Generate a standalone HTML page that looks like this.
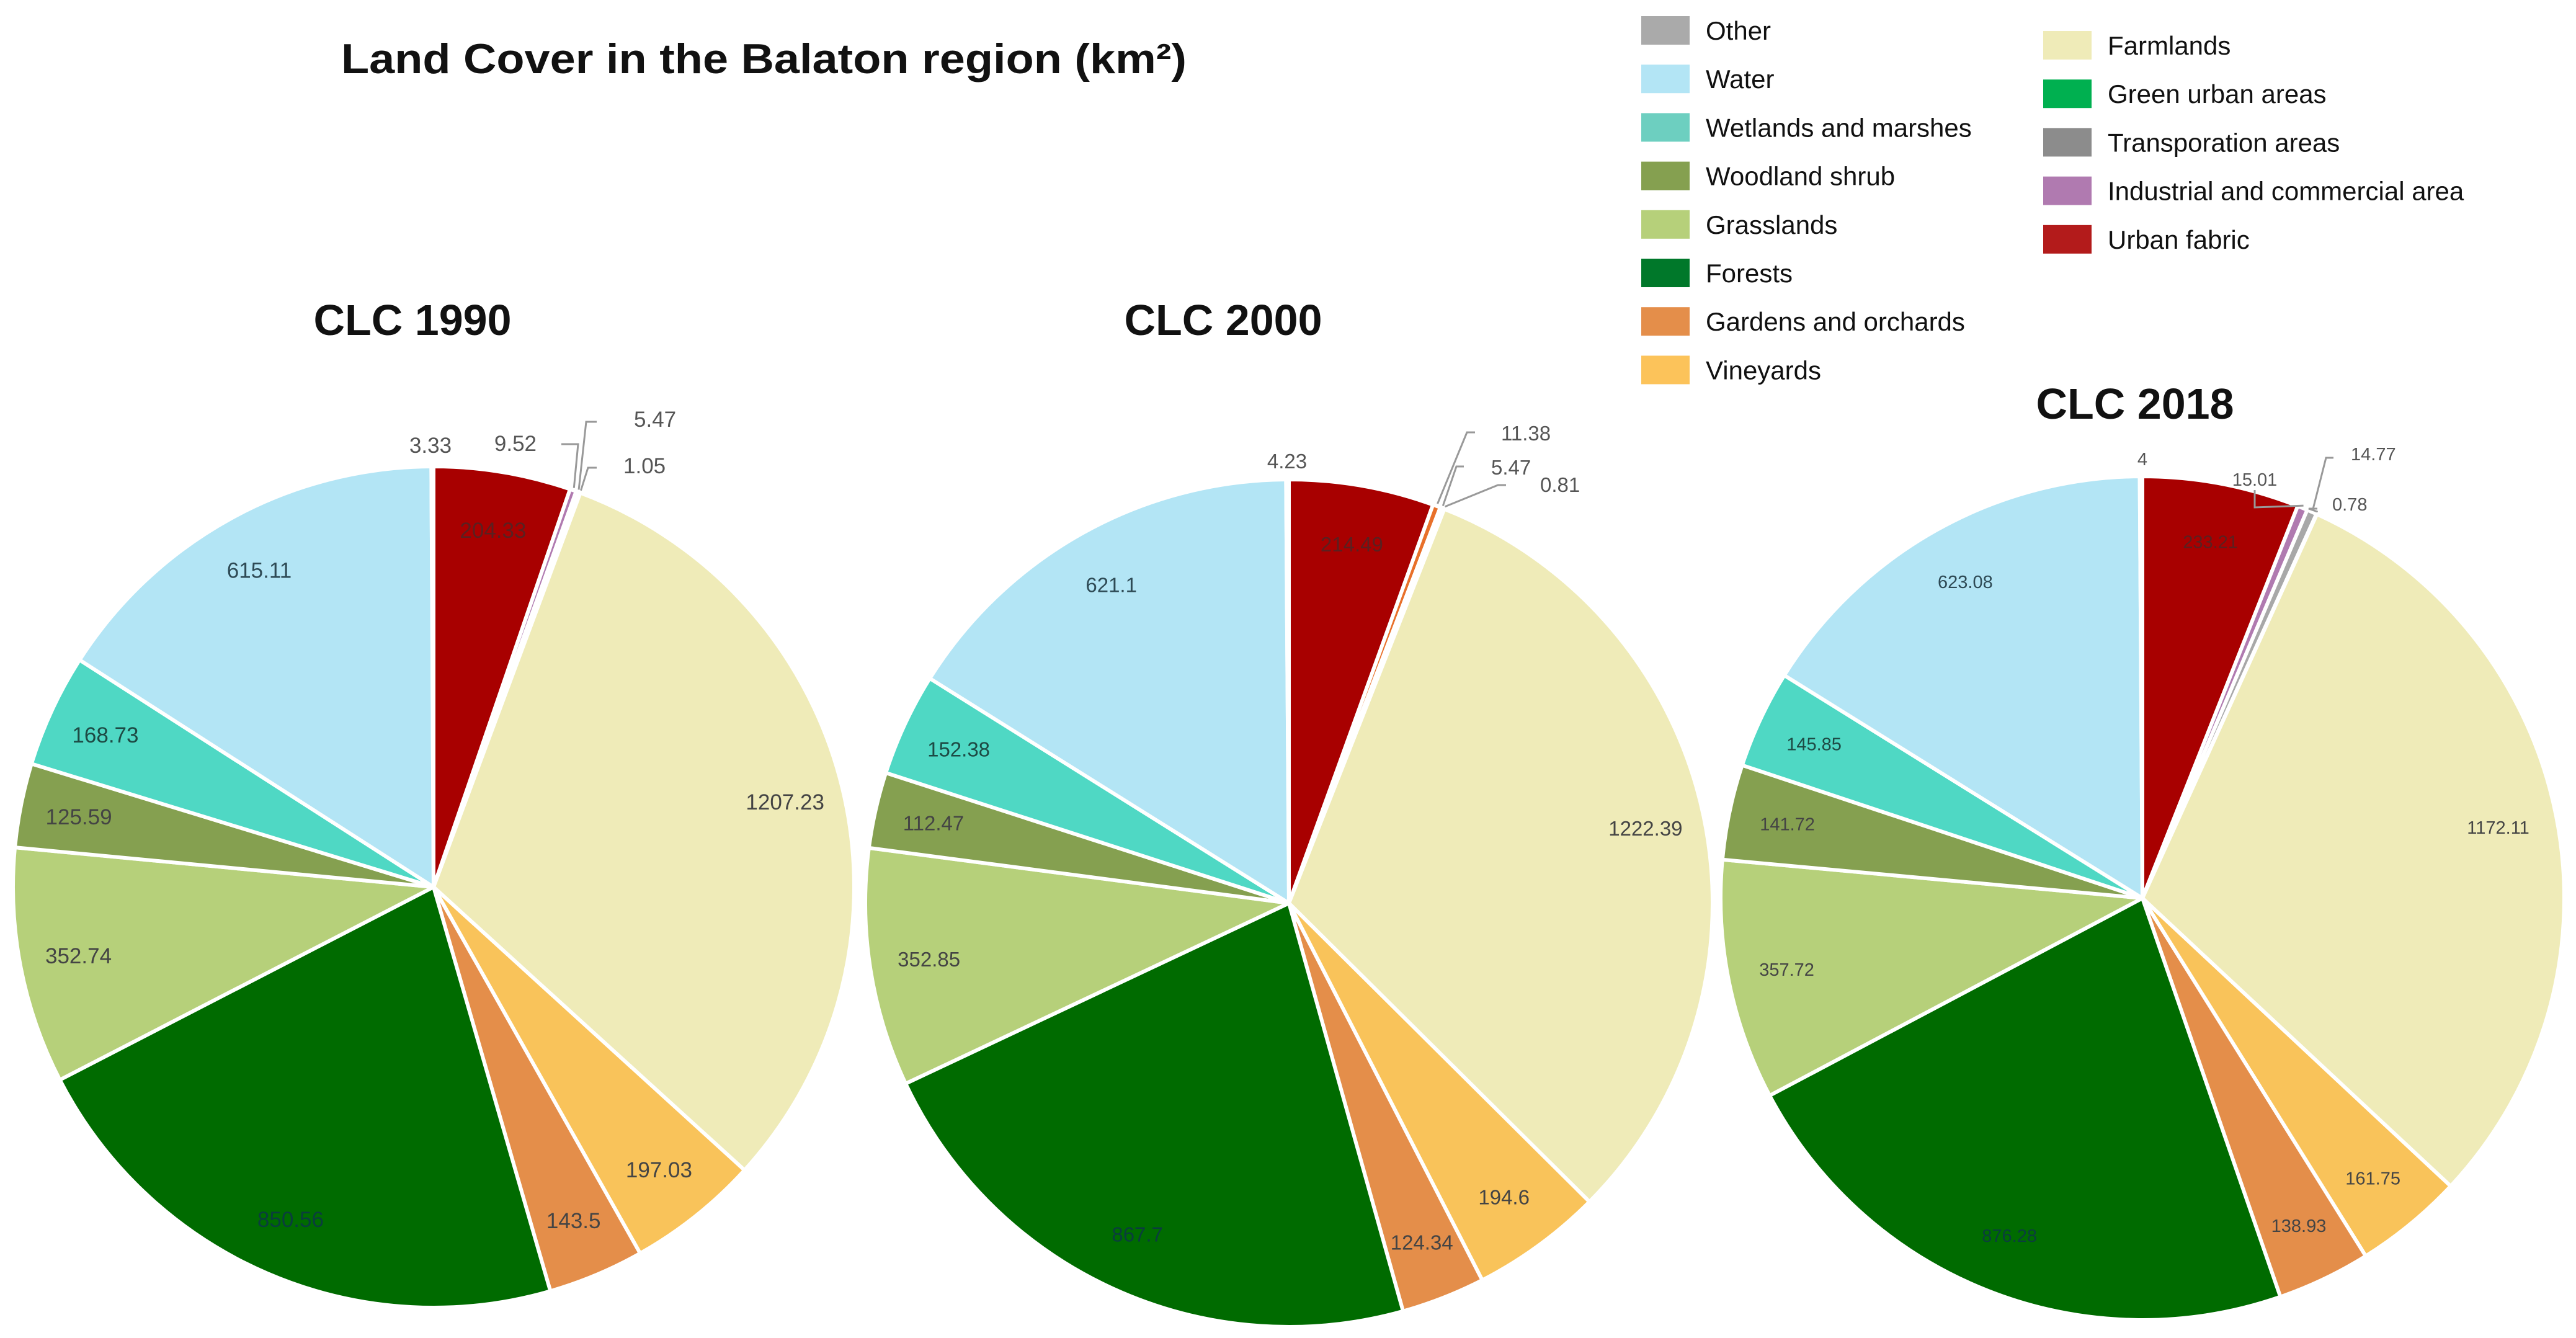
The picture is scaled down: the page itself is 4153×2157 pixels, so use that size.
<!DOCTYPE html>
<html><head><meta charset="utf-8"><style>
html,body{margin:0;padding:0;background:#fff;}
svg{display:block;}
text{font-family:"Liberation Sans","DejaVu Sans",sans-serif;}
</style></head><body>
<svg id="chart" width="4153" height="2157" viewBox="0 0 4153 2157">
<text x="550" y="118" font-size="68" font-weight="bold" fill="#111" textLength="1363" lengthAdjust="spacingAndGlyphs">Land Cover in the Balaton region (km²)</text>
<g id="legend"></g>
<g id="pies"></g>
</svg>
<script>
const categories = ["Urban fabric","Industrial and commercial area","Transporation areas","Green urban areas","Farmlands","Vineyards","Gardens and orchards","Forests","Grasslands","Woodland shrub","Wetlands and marshes","Water","Other"];
const years = ["CLC 1990","CLC 2000","CLC 2018"];
const values1990 = [204.33,9.52,5.47,1.05,1207.23,197.03,143.5,850.56,352.74,125.59,168.73,615.11,3.33];
const values2000 = [214.49,11.38,5.47,0.81,1222.39,194.6,124.34,867.7,352.85,112.47,152.38,621.1,4.23];
const values2018 = [233.21,15.01,14.77,0.78,1172.11,161.75,138.93,876.28,357.72,141.72,145.85,623.08,4];
const labels1990 = ["204.33","9.52","5.47","1.05","1207.23","197.03","143.5","850.56","352.74","125.59","168.73","615.11","3.33"];
const labels2000 = ["214.49","11.38","5.47","0.81","1222.39","194.6","124.34","867.7","352.85","112.47","152.38","621.1","4.23"];
const labels2018 = ["233.21","15.01","14.77","0.78","1172.11","161.75","138.93","876.28","357.72","141.72","145.85","623.08","4"];

const sliceColors = ["#a80000","#b07ab0","#a8a8a8","#00b050","#efebb8","#f9c35a","#e48e4a","#006b00","#b6d07a","#85a050","#4fd8c4","#b3e5f5","#a8a8a8"];
const labelColors = ["#5a2020","#555","#555","#555","#444","#444","#444","#0a3d3d","#444","#444","#1d4a44","#2e4a55","#555"];
const legendLeft = [["Other","#aaaaaa"],["Water","#b3e5f5"],["Wetlands and marshes","#6dcfc0"],["Woodland shrub","#85a050"],["Grasslands","#b6d07a"],["Forests","#00782a"],["Gardens and orchards","#e48e4a"],["Vineyards","#fcc35a"]];
const legendRight = [["Farmlands","#efebb8"],["Green urban areas","#00b050"],["Transporation areas","#8c8c8c"],["Industrial and commercial area","#b07ab0"],["Urban fabric","#b31b1b"]];

const NS="http://www.w3.org/2000/svg";
function mk(tag,attrs,parent){const e=document.createElementNS(NS,tag);for(const k in attrs)e.setAttribute(k,attrs[k]);parent.appendChild(e);return e;}

const lg=document.getElementById('legend');
legendLeft.forEach((d,i)=>{
  const g=mk('g',{},lg);
  
  
  const y=26+i*78.2;
  mk('rect',{x:2646,y:y,width:78,height:46,fill:d[1]},g);
  const t=mk('text',{x:2750,y:y+38,'font-size':42,fill:'#111'},g);t.textContent=d[0];
});
legendRight.forEach((d,i)=>{
  const g=mk('g',{},lg);
  
  
  const y=50+i*78.2;
  mk('rect',{x:3294,y:y,width:78,height:46,fill:d[1]},g);
  const t=mk('text',{x:3398,y:y+38,'font-size':42,fill:'#111'},g);t.textContent=d[0];
});

const layout=[
 {cx:699,cy:1430,r:678,tx:665,ty:540,fs:35,callouts:{12:[694,730,'middle',null],1:[865,727,'end',[905,716,932,716]],2:[1022,688,'start',[962,680,945,680]],3:[1005,763,'start',[962,754,948,754]]}},
 {cx:2078,cy:1456,r:683,tx:1972,ty:540,fs:33,callouts:{12:[2075,755,'middle',null],1:[2420,710,'start',[2378,697,2365,697]],2:[2404,765,'start',[2360,752,2348,752]],3:[2483,793,'start',[2428,782,2415,782]]}},
 {cx:3454,cy:1448,r:680,tx:3442,ty:675,fs:29,callouts:{12:[3454,750,'middle',null],1:[3635,783,'middle',[3635,790,3635,818]],2:[3790,742,'start',[3762,738,3750,738]],3:[3760,823,'start',[3736,820,3722,820]]}}
];
const allVals=[values1990,values2000,values2018];
const allLabels=[labels1990,labels2000,labels2018];
const pies=document.getElementById('pies');

function pt(cx,cy,r,a){return [cx+r*Math.sin(a),cy-r*Math.cos(a)];}

allVals.forEach((vals,pi)=>{
  const L=layout[pi];
  const g=mk('g',{},pies);
  
  
  const tt=mk('text',{x:L.tx,y:L.ty,'font-size':70,'font-weight':'bold','text-anchor':'middle',fill:'#111'},g);
  tt.textContent=years[pi];
  
  
  const total=vals.reduce((a,b)=>a+b,0);
  let acc=0;
  vals.forEach((v,i)=>{
    const a0=acc/total*2*Math.PI; acc+=v; const a1=acc/total*2*Math.PI;
    const p0=pt(L.cx,L.cy,L.r,a0), p1=pt(L.cx,L.cy,L.r,a1);
    const large=(a1-a0)>Math.PI?1:0;
    let col=sliceColors[i];
    if(pi===1&&i===1) col="#e8702a";
    const p=mk('path',{d:`M${L.cx},${L.cy}L${p0[0]},${p0[1]}A${L.r},${L.r} 0 ${large} 1 ${p1[0]},${p1[1]}Z`,fill:col,stroke:'#fff','stroke-width':6,'stroke-linejoin':'round'},g);
    
    
    const mid=(a0+a1)/2;
    if(v>50){
      const lp=pt(L.cx,L.cy,L.r*0.86,mid);
      const t=mk('text',{x:lp[0],y:lp[1]+L.fs*0.35,'font-size':L.fs,'text-anchor':'middle',fill:labelColors[i]},g);
      t.textContent=allLabels[pi][i];
      
      
    } else if(L.callouts[i]){
      const c=L.callouts[i];
      if(c[3]){
        const rim=pt(L.cx,L.cy,L.r+4,mid);
        const ln=mk('polyline',{points:`${rim[0]},${rim[1]} ${c[3][2]},${c[3][3]} ${c[3][0]},${c[3][1]}`,fill:'none',stroke:'#999','stroke-width':3},g);
        
        
      }
      const t=mk('text',{x:c[0],y:c[1],'font-size':L.fs,'text-anchor':c[2],fill:'#555'},g);
      t.textContent=allLabels[pi][i];
      
      
    }
  });
});
</script>
</body></html>
